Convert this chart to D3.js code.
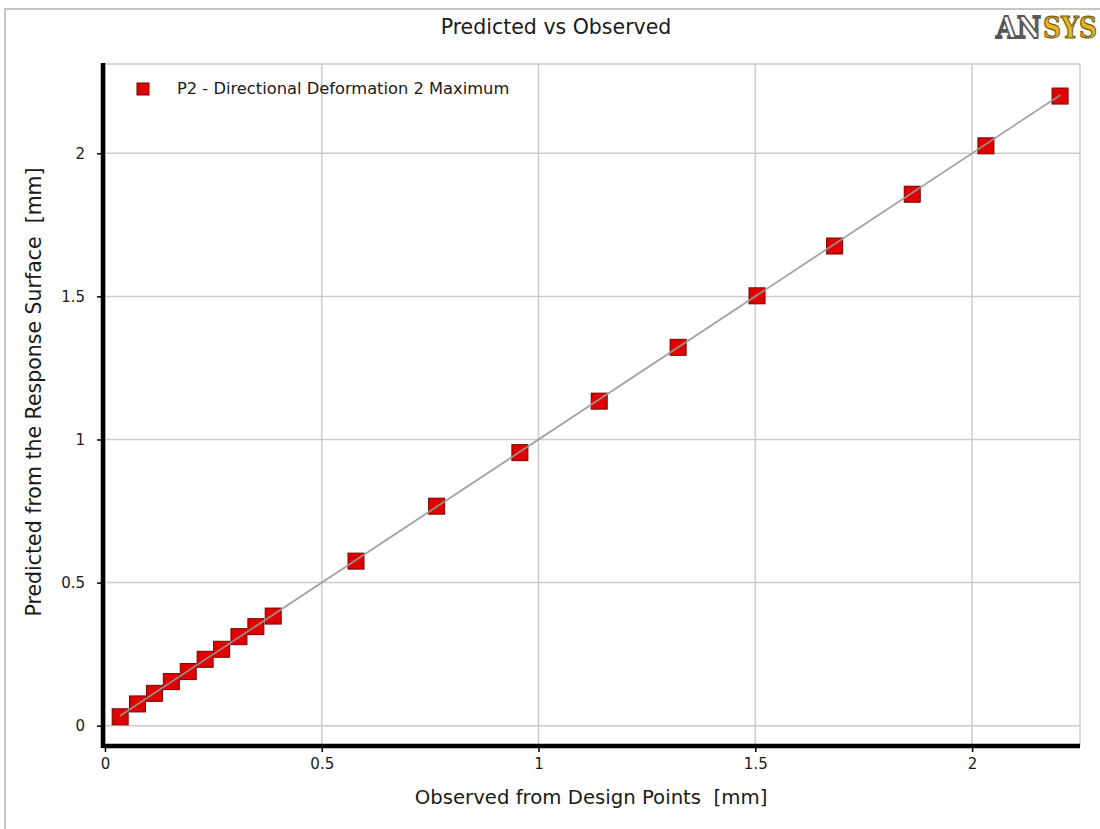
<!DOCTYPE html>
<html>
<head>
<meta charset="utf-8">
<script src="https://cdn.jsdelivr.net/npm/d3@7"></script>
<style>
  body { margin: 0; background: #fff; }
  svg { display: block; font-family: "DejaVu Sans", sans-serif; }
</style>
</head>
<body>
<svg id="chart" width="1100" height="829"></svg>
<script>
// design points: observed vs predicted [mm]
var observed  = [0.035, 0.075, 0.114, 0.153, 0.192, 0.231, 0.269, 0.309, 0.348, 0.388,
                 0.579, 0.765, 0.957, 1.140, 1.322, 1.504, 1.683, 1.862, 2.032, 2.203];
var predicted = [0.031, 0.076, 0.113, 0.154, 0.189, 0.232, 0.267, 0.311, 0.346, 0.383,
                 0.575, 0.767, 0.954, 1.134, 1.322, 1.502, 1.676, 1.857, 2.026, 2.200];
var xTicks = [0, 0.5, 1, 1.5, 2];
var yTicks = [0, 0.5, 1, 1.5, 2];
var seriesName = "P2 - Directional Deformation 2 Maximum";

var svg = d3.select('#chart');
var pLeft = 103, pRight = 1080, pTop = 64, pBottom = 746;

var x = d3.scaleLinear().domain([-0.0046, 2.249]).range([pLeft, pRight]);
var y = d3.scaleLinear().domain([-0.071, 2.312]).range([pBottom, pTop]);

// outer frame
svg.append('rect')
  .attr('x', 5).attr('y', 9).attr('width', 1120).attr('height', 840)
  .attr('fill', 'none').attr('stroke', '#b4b4b4').attr('stroke-width', 1.5);

// title
svg.append('text')
  .attr('x', 556).attr('y', 34)
  .attr('text-anchor', 'middle')
  .style('font-size', '20.5px').style('fill', '#1a1a1a')
  .text('Predicted vs Observed');

// logo (two pieces)
svg.append('text')
  .attr('x', 996).attr('y', 38)
  .style('font-size', '29px').style('font-weight', 'bold')
  .style('font-family', '"DejaVu Serif", serif')
  .attr('textLength', 45).attr('lengthAdjust', 'spacingAndGlyphs')
  .style('fill', '#fff').style('stroke', '#555').style('stroke-width', 1.8)
  .text('AN');
svg.append('text')
  .attr('x', 1043).attr('y', 38)
  .style('font-size', '25px').style('font-weight', 'bold')
  .style('font-family', '"DejaVu Serif", serif')
  .attr('textLength', 54).attr('lengthAdjust', 'spacing')
  .attr('transform', 'translate(1043,38) scale(1,1.16) translate(-1043,-38)')
  .style('fill', '#e7b51e').style('stroke', '#6b5a1a').style('stroke-width', 1)
  .text('SYS');

// grid
svg.append('g').selectAll('line').data(xTicks).enter().append('line')
  .attr('x1', function(d) { return x(d); }).attr('x2', function(d) { return x(d); })
  .attr('y1', pTop).attr('y2', pBottom)
  .attr('stroke', '#cccccc').attr('stroke-width', 1.5);
svg.append('g').selectAll('line').data(yTicks).enter().append('line')
  .attr('y1', function(d) { return y(d); }).attr('y2', function(d) { return y(d); })
  .attr('x1', pLeft).attr('x2', pRight)
  .attr('stroke', '#cccccc').attr('stroke-width', 1.5);
// plot border top/right
svg.append('line').attr('x1', pLeft).attr('x2', pRight).attr('y1', pTop).attr('y2', pTop)
  .attr('stroke', '#cccccc').attr('stroke-width', 1.5);
svg.append('line').attr('x1', pRight).attr('x2', pRight).attr('y1', pTop).attr('y2', pBottom)
  .attr('stroke', '#cccccc').attr('stroke-width', 1.5);

// axes
var fmt = function(d) { return d3.format('')(d); };
var xAxis = svg.append('g').attr('transform', 'translate(0,' + pBottom + ')')
  .call(d3.axisBottom(x).tickValues(xTicks).tickSize(6).tickPadding(6).tickFormat(fmt));
var yAxis = svg.append('g').attr('transform', 'translate(' + pLeft + ',0)')
  .call(d3.axisLeft(y).tickValues(yTicks).tickSize(6).tickPadding(12).tickFormat(fmt));
[xAxis, yAxis].forEach(function(a) {
  a.attr('font-size', null).attr('font-family', null);
  a.select('.domain').remove();
  a.selectAll('.tick line').attr('stroke', '#000').attr('stroke-width', 1.5);
  a.selectAll('.tick text').style('font-size', '15px').style('fill', '#1a1a1a');
});
svg.append('line').attr('x1', pLeft).attr('x2', pRight).attr('y1', pBottom).attr('y2', pBottom)
  .attr('stroke', '#000').attr('stroke-width', 4.5);
svg.append('line').attr('x1', pLeft).attr('x2', pLeft).attr('y1', pTop - 1).attr('y2', pBottom + 2)
  .attr('stroke', '#000').attr('stroke-width', 4.5);

// axis titles
svg.append('text')
  .attr('x', 591).attr('y', 804)
  .attr('text-anchor', 'middle')
  .style('font-size', '19.7px').style('fill', '#1a1a1a')
  .style('white-space', 'pre').attr('xml:space', 'preserve')
  .text('Observed from Design Points  [mm]');
svg.append('text')
  .attr('transform', 'translate(41,392) rotate(-90)')
  .attr('text-anchor', 'middle')
  .style('font-size', '20.5px').style('fill', '#1a1a1a')
  .style('white-space', 'pre').attr('xml:space', 'preserve')
  .text('Predicted from the Response Surface  [mm]');

// points
var pts = observed.map(function(d, i) { return [d, predicted[i]]; });
var ms = 16;
svg.append('g').selectAll('rect').data(pts).enter().append('rect')
  .attr('x', function(d) { return x(d[0]) - ms / 2; })
  .attr('y', function(d) { return y(d[1]) - ms / 2; })
  .attr('width', ms).attr('height', ms)
  .attr('fill', '#e00000').attr('stroke', '#7a0000').attr('stroke-width', 1);

// fit line y = x over range of observed
var ext = d3.extent(observed);
svg.append('line')
  .attr('x1', x(ext[0])).attr('y1', y(ext[0]))
  .attr('x2', x(ext[1])).attr('y2', y(ext[1]))
  .attr('stroke', '#999').attr('stroke-width', 1.8).attr('opacity', 0.9);

// legend
svg.append('rect').attr('x', 137).attr('y', 83).attr('width', 12).attr('height', 12)
  .attr('fill', '#e00000').attr('stroke', '#7a0000').attr('stroke-width', 1);
svg.append('text').attr('x', 177).attr('y', 94)
  .style('font-size', '16.3px').style('fill', '#1a1a1a')
  .text(seriesName);
</script>
</body>
</html>
